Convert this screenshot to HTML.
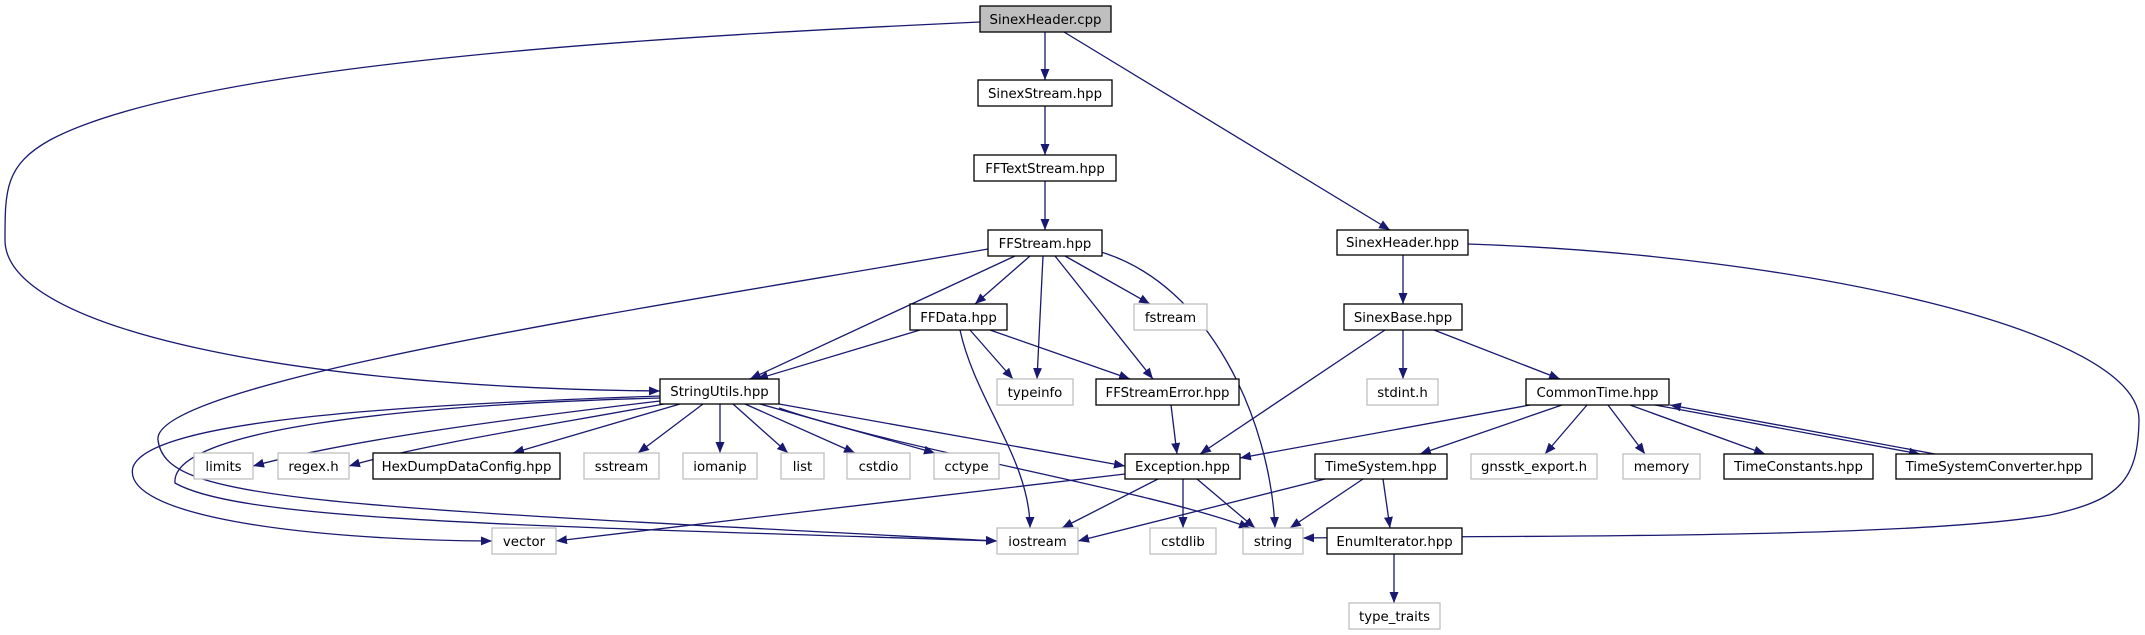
<!DOCTYPE html>
<html><head><meta charset="utf-8"><style>
html,body{margin:0;padding:0;background:#fff;}
svg{display:block;}
text{font-family:"DejaVu Sans","Liberation Sans",sans-serif;font-size:13.3px;fill:#000;}
</style></head><body>
<svg width="2145" height="635" viewBox="0 0 2145 635" xmlns="http://www.w3.org/2000/svg">
<defs>
<marker id="a" markerUnits="userSpaceOnUse" markerWidth="12" markerHeight="10" refX="11" refY="4.5" orient="auto">
<path d="M0,0 L11,4.5 L0,9 z" fill="#191970"/>
</marker>
</defs>
<g fill="none" stroke="#191970" stroke-width="1.3" marker-end="url(#a)">
<path d="M1045,32 L1045,80"/>
<path d="M1064,32 L1390,230"/>
<path d="M980,22 C700,35 200,60 50,140 C5,165 5,190 5,240 C5,330 300,388 660,391"/>
<path d="M1045,106 L1045,155"/>
<path d="M1045,181 L1045,230"/>
<path d="M1030,256 L975,304"/>
<path d="M1015,256 L750,379"/>
<path d="M1043,256 L1037,379"/>
<path d="M1055,256 L1153,379"/>
<path d="M1065,256 L1150,304"/>
<path d="M1101,252 C1210,285 1270,420 1275,528"/>
<path d="M988,249 C700,300 150,380 158,440 C165,500 300,505 997,541"/>
<path d="M920,330 L757,379"/>
<path d="M970,330 L1013,379"/>
<path d="M960,330 C975,400 1030,460 1030,528"/>
<path d="M990,330 L1130,379"/>
<path d="M660,401 C500,420 350,440 253,466"/>
<path d="M664,404 C550,425 420,445 349,466"/>
<path d="M680,404 L513,453"/>
<path d="M703,404 L638,453"/>
<path d="M720,404 L720,453"/>
<path d="M733,404 L788,453"/>
<path d="M745,404 L855,453"/>
<path d="M760,404 L935,453"/>
<path d="M779,404 L1125,466"/>
<path d="M779,408 C900,450 1150,490 1250,528"/>
<path d="M660,396 C400,405 150,420 133,467 C120,515 300,540 492,541"/>
<path d="M660,398 C400,405 170,430 175,483 C240,520 500,525 997,541"/>
<path d="M1125,474 L556,541"/>
<path d="M1158,479 L1062,528"/>
<path d="M1183,479 L1183,528"/>
<path d="M1197,479 L1255,528"/>
<path d="M1171,405 L1177,454"/>
<path d="M1403,255 L1403,304"/>
<path d="M1468,244 C1800,255 2140,330 2139,420 C2138,480 2120,500 2050,515 C1900,540 1500,535 1303,538"/>
<path d="M1385,330 L1200,454"/>
<path d="M1403,330 L1403,379"/>
<path d="M1434,330 L1560,379"/>
<path d="M1530,405 L1240,458"/>
<path d="M1562,405 L1420,454"/>
<path d="M1587,405 L1545,454"/>
<path d="M1608,405 L1645,454"/>
<path d="M1630,405 L1765,454"/>
<path d="M1655,405 L1920,454"/>
<path d="M1935,454 L1670,405"/>
<path d="M1325,479 L1078,541"/>
<path d="M1363,479 L1290,528"/>
<path d="M1383,479 L1390,528"/>
<path d="M1394,554 L1394,603"/>
</g>
<g stroke-width="1.3">
<rect x="980" y="6" width="131" height="26" fill="#bfbfbf" stroke="#000"/>
<g fill="#fff" stroke="#000">
<rect x="978" y="80" width="134" height="26"/>
<rect x="974" y="155" width="142" height="26"/>
<rect x="988" y="230" width="114" height="26"/>
<rect x="910" y="304" width="97" height="26"/>
<rect x="660" y="379" width="119" height="25"/>
<rect x="373" y="453" width="187" height="26"/>
<rect x="1096" y="379" width="143" height="26"/>
<rect x="1125" y="454" width="115" height="25"/>
<rect x="1337" y="230" width="131" height="25"/>
<rect x="1344" y="304" width="118" height="26"/>
<rect x="1526" y="379" width="143" height="26"/>
<rect x="1315" y="454" width="132" height="25"/>
<rect x="1724" y="454" width="149" height="25"/>
<rect x="1896" y="454" width="196" height="25"/>
<rect x="1327" y="528" width="135" height="26"/>
</g>
<g fill="#fff" stroke="#bfbfbf">
<rect x="997" y="379" width="76" height="26"/>
<rect x="1134" y="304" width="73" height="26"/>
<rect x="1367" y="379" width="71" height="26"/>
<rect x="194" y="453" width="59" height="26"/>
<rect x="278" y="453" width="71" height="26"/>
<rect x="584" y="453" width="75" height="26"/>
<rect x="683" y="453" width="74" height="26"/>
<rect x="781" y="453" width="43" height="26"/>
<rect x="847" y="453" width="63" height="26"/>
<rect x="934" y="453" width="65" height="26"/>
<rect x="492" y="528" width="64" height="26"/>
<rect x="997" y="528" width="81" height="26"/>
<rect x="1150" y="528" width="66" height="26"/>
<rect x="1243" y="528" width="60" height="26"/>
<rect x="1471" y="454" width="126" height="25"/>
<rect x="1623" y="454" width="77" height="25"/>
<rect x="1349" y="603" width="91" height="26"/>
</g>
</g>
<g text-anchor="middle">
<text x="1045.5" y="24">SinexHeader.cpp</text>
<text x="1045" y="98">SinexStream.hpp</text>
<text x="1045" y="173">FFTextStream.hpp</text>
<text x="1045" y="248">FFStream.hpp</text>
<text x="958.5" y="322">FFData.hpp</text>
<text x="719.5" y="396">StringUtils.hpp</text>
<text x="466.5" y="471">HexDumpDataConfig.hpp</text>
<text x="1167.5" y="397">FFStreamError.hpp</text>
<text x="1182.5" y="471">Exception.hpp</text>
<text x="1402.5" y="247">SinexHeader.hpp</text>
<text x="1403" y="322">SinexBase.hpp</text>
<text x="1597.5" y="397">CommonTime.hpp</text>
<text x="1381" y="471">TimeSystem.hpp</text>
<text x="1798.5" y="471">TimeConstants.hpp</text>
<text x="1994" y="471">TimeSystemConverter.hpp</text>
<text x="1394.5" y="546">EnumIterator.hpp</text>
<text x="1035" y="397">typeinfo</text>
<text x="1170.5" y="322">fstream</text>
<text x="1402.5" y="397">stdint.h</text>
<text x="223.5" y="471">limits</text>
<text x="313.5" y="471">regex.h</text>
<text x="621.5" y="471">sstream</text>
<text x="720" y="471">iomanip</text>
<text x="802.5" y="471">list</text>
<text x="878.5" y="471">cstdio</text>
<text x="966.5" y="471">cctype</text>
<text x="524" y="546">vector</text>
<text x="1037.5" y="546">iostream</text>
<text x="1183" y="546">cstdlib</text>
<text x="1273" y="546">string</text>
<text x="1534" y="471">gnsstk_export.h</text>
<text x="1661.5" y="471">memory</text>
<text x="1394.5" y="621">type_traits</text>
</g>
</svg>
</body></html>
